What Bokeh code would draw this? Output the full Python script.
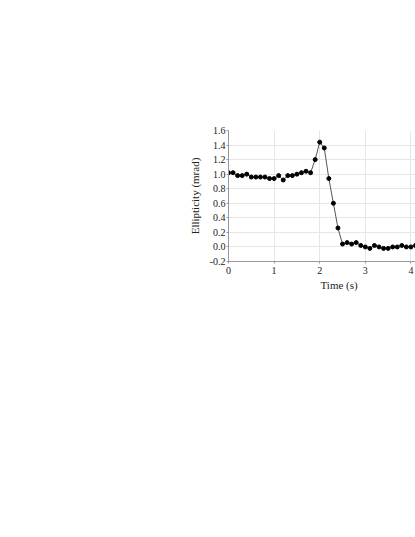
from bokeh.plotting import figure
from bokeh.models import FixedTicker, NumeralTickFormatter, Range1d, Title
from bokeh.embed import file_html
from bokeh.resources import INLINE

time_s = [0.0, 0.1, 0.2, 0.3, 0.4, 0.5, 0.6, 0.7, 0.8, 0.9,
          1.0, 1.1, 1.2, 1.3, 1.4, 1.5, 1.6, 1.7, 1.8, 1.9,
          2.0, 2.1, 2.2, 2.3, 2.4, 2.5, 2.6, 2.7, 2.8, 2.9,
          3.0, 3.1, 3.2, 3.3, 3.4, 3.5, 3.6, 3.7, 3.8, 3.9,
          4.0, 4.1]
ellipticity = [1.02, 1.02, 0.98, 0.98, 1.00, 0.96, 0.96, 0.96, 0.96, 0.94,
               0.94, 0.98, 0.92, 0.98, 0.98, 1.00, 1.02, 1.04, 1.02, 1.20,
               1.44, 1.36, 0.94, 0.60, 0.26, 0.04, 0.06, 0.04, 0.06, 0.02,
               0.00, -0.02, 0.02, 0.00, -0.02, -0.02, 0.00, 0.00, 0.02, 0.00,
               0.00, 0.02]
x_ticks = [0, 1, 2, 3, 4]
y_ticks = [-0.2, 0.0, 0.2, 0.4, 0.6, 0.8, 1.0, 1.2, 1.4, 1.6]
x_title = "Time (s)"
y_title = "Ellipticity (mrad)"

p = figure(width=415, height=521, output_backend="svg", toolbar_location=None,
           x_range=Range1d(0, 4.1), y_range=Range1d(-0.2, 1.6),
           min_border_left=228, min_border_top=130, min_border_right=0,
           min_border_bottom=260)
p.outline_line_color = None
p.background_fill_color = "white"
p.border_fill_color = "white"

p.line(time_s, ellipticity, line_color="#555555", line_width=1)
p.scatter(time_s, ellipticity, size=4, fill_color="black", line_color="black",
          line_width=1)

for ax in (p.xaxis[0], p.yaxis[0]):
    ax.axis_line_color = "#999999"
    ax.major_tick_line_color = "#999999"
    ax.major_tick_out = 2
    ax.major_tick_in = 0
    ax.minor_tick_line_color = None
    ax.major_label_text_font = "Liberation Serif"
    ax.major_label_text_font_size = "10px"
    ax.major_label_text_color = "#222222"
    ax.axis_label_text_font = "Liberation Serif"
    ax.axis_label_text_font_size = "11px"
    ax.axis_label_text_font_style = "normal"
    ax.axis_label_text_color = "#222222"

p.xaxis.ticker = FixedTicker(ticks=x_ticks)
p.yaxis.ticker = FixedTicker(ticks=y_ticks)
p.yaxis.formatter = NumeralTickFormatter(format="0.0")
p.yaxis.axis_label = y_title
p.xaxis.major_label_standoff = 3
p.yaxis.major_label_standoff = 1
p.yaxis.axis_label_standoff = 6

# x-axis title: the full chart extends past the window, so its title sits
# right of the visible frame's centre
p.add_layout(Title(text=x_title, align="left", offset=92, standoff=1,
                   text_font="Liberation Serif", text_font_size="11px",
                   text_font_style="normal", text_color="#222222"), "below")

p.xgrid.grid_line_color = "#e6e6e6"
p.ygrid.grid_line_color = "#e6e6e6"

open("out.html", "w").write(file_html(p, INLINE))
